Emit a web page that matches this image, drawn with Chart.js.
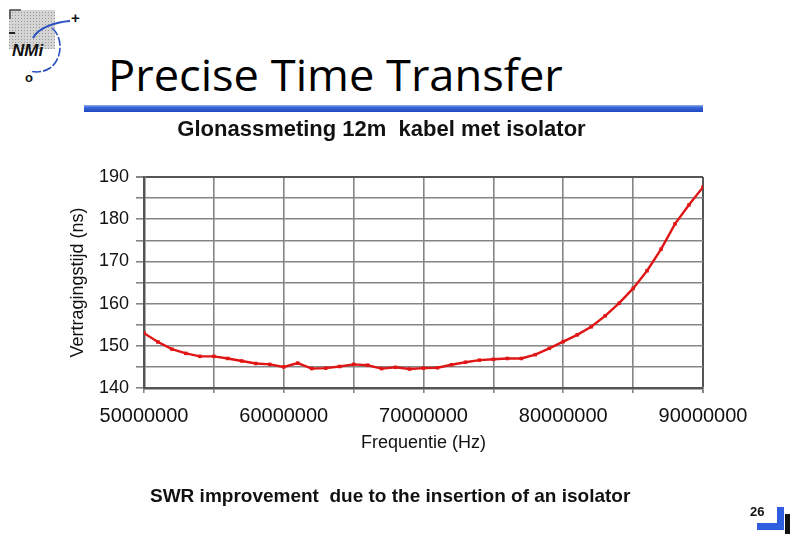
<!DOCTYPE html>
<html>
<head>
<meta charset="utf-8">
<script src="https://cdn.jsdelivr.net/npm/chart.js@4"></script>
<style>
  html, body { margin: 0; padding: 0; background: #fff; }
  .slide { position: relative; width: 790px; height: 534px; overflow: hidden; font-family: "Liberation Sans", Arial, sans-serif; }
  .slide canvas { position: absolute; left: 0; top: 0; }
  .logo { position: absolute; left: 0; top: 0; }
  .big-title {
    position: absolute; left: 108px; top: 44px; margin: 0;
    font-family: "Open Sans", "Noto Sans", sans-serif; font-weight: 400; font-size: 44px;
    color: #000; white-space: nowrap; transform-origin: left top;
  }
  .title-bar {
    position: absolute; left: 84px; top: 105px; width: 619px; height: 7px;
    background: linear-gradient(#8fb0f0 0%, #3a66d8 35%, #1f47c0 100%);
  }
  .footer {
    position: absolute; left: 150px; top: 485px; margin: 0; white-space: pre;
    font-weight: 700; font-size: 19px; color: #111;
  }
  .page-no { position: absolute; left: 750px; top: 504px; font-weight: 700; font-size: 13px; color: #111; }
  .corner-shadow { position: absolute; left: 785px; top: 514px; width: 5px; height: 20px; background: #111; }
  .corner-v { position: absolute; left: 777px; top: 507px; width: 7px; height: 23px; background: #2f5fe0; }
  .corner-h { position: absolute; left: 757px; top: 523px; width: 27px; height: 7px; background: #2f5fe0; }
</style>
</head>
<body>
<div class="slide">
  <svg class="logo" width="90" height="90" viewBox="0 0 90 90">
    <defs>
      <pattern id="dots" width="3" height="3" patternUnits="userSpaceOnUse">
        <rect width="3" height="3" fill="#d4d4d4"/>
        <rect width="1" height="1" fill="#9a9a9a"/>
      </pattern>
    </defs>
    <rect x="9" y="10" width="46" height="39" fill="url(#dots)"/>
    <path d="M10 19 V10 H21" stroke="#444" stroke-width="1.5" fill="none"/>
    <line x1="9" y1="33" x2="15" y2="33" stroke="#222" stroke-width="2"/>
    <path d="M70 21 C55 22 38 28 33 38" stroke="#2a4fc0" stroke-width="2" fill="none"/>
    <path d="M52 28 C64 38 62 60 50 68 C44 72 36 73 30 71" stroke="#2a4fc0" stroke-width="1.6" fill="none" stroke-dasharray="9 2"/>
    <text x="12" y="56" font-family="Liberation Sans, Arial" font-weight="700" font-style="italic" font-size="17" fill="#111">NMi</text>
    <text x="71" y="23" font-family="Liberation Sans, Arial" font-weight="700" font-size="15" fill="#111">+</text>
    <text x="25" y="82" font-family="Liberation Sans, Arial" font-weight="700" font-size="13" fill="#111">o</text>
  </svg>
  <h1 class="big-title" id="bigTitle">Precise Time Transfer</h1>
  <div class="title-bar"></div>
  <canvas id="chart" width="790" height="534"></canvas>
  <p class="footer">SWR improvement  due to the insertion of an isolator</p>
  <div class="page-no">26</div>
  <div class="corner-shadow"></div>
  <div class="corner-v"></div>
  <div class="corner-h"></div>
</div>
<script>
// measured points, 1 MHz apart
const freqMHz = [50, 51, 52, 53, 54, 55, 56, 57, 58, 59,
                 60, 61, 62, 63, 64, 65, 66, 67, 68, 69,
                 70, 71, 72, 73, 74, 75, 76, 77, 78, 79,
                 80, 81, 82, 83, 84, 85, 86, 87, 88, 89, 90];
const delayNs = [153.0, 150.9, 149.2, 148.2, 147.5, 147.5, 147.0, 146.4, 145.8, 145.6,
                 145.0, 145.9, 144.6, 144.7, 145.1, 145.6, 145.4, 144.6, 144.9, 144.5,
                 144.7, 144.8, 145.5, 146.1, 146.6, 146.8, 147.0, 147.0, 147.9, 149.4,
                 151.0, 152.6, 154.5, 157.1, 160.1, 163.6, 167.8, 172.9, 178.9, 183.4, 187.6];
const xTickLabels = ['50000000', '60000000', '70000000', '80000000', '90000000'];
const yTickLabels = ['140', '150', '160', '170', '180', '190'];

const chartTitle = 'Glonassmeting 12m  kabel met isolator';
const xTitle = 'Frequentie (Hz)';
const yTitle = 'Vertragingstijd (ns)';

// squeeze the big heading to the width it has on the slide
const bt = document.getElementById('bigTitle');
bt.style.transform = 'scale(' + (455 / bt.offsetWidth) + ', 1)';

const points = freqMHz.map((f, i) => ({ x: f * 1000000, y: delayNs[i] }));
const edgeColor = '#555';
const gridColor = '#858585';

Chart.defaults.font.family = '"Liberation Sans", Arial, sans-serif';
Chart.defaults.color = '#111';

new Chart(document.getElementById('chart'), {
    type: 'line',
    data: {
        datasets: [{
            data: points,
            borderColor: '#e01515',
            backgroundColor: '#e01515',
            borderWidth: 2.4,
            pointStyle: 'rect',
            pointRadius: 2.5,
            pointBorderWidth: 0,
            tension: 0
        }]
    },
    options: {
        responsive: false,
        animation: false,
        layout: { padding: { left: 60, right: 87, top: 112, bottom: 80 } },
        plugins: {
            legend: { display: false },
            tooltip: { enabled: false },
            title: {
                display: true, text: chartTitle, color: '#111',
                font: { size: 22, weight: 'bold' },
                padding: { top: 4.8, bottom: 33.8 }
            }
        },
        scales: {
            x: {
                type: 'linear', min: 50000000, max: 90000000,
                afterFit: s => { s.height = 66; },
                ticks: {
                    stepSize: 5000000, autoSkip: false, maxRotation: 0, padding: 11,
                    font: { size: 20 }, color: '#111',
                    callback: v => xTickLabels.includes(String(v)) ? String(v) : ''
                },
                grid: {
                    color: c => (c.tick && c.tick.value === 90000000) ? edgeColor : gridColor,
                    lineWidth: c => (c.tick && c.tick.value === 90000000) ? 2 : 1.6,
                    tickLength: 5, tickColor: gridColor
                },
                border: { color: edgeColor, width: 2.5 },
                title: { display: true, text: xTitle, font: { size: 18 }, color: '#111', padding: 0 }
            },
            y: {
                min: 140, max: 190,
                afterFit: s => { s.width = 84; },
                ticks: {
                    stepSize: 5, autoSkip: false, padding: 7,
                    font: { size: 18 }, color: '#111',
                    callback: v => yTickLabels.includes(String(v)) ? String(v) : ''
                },
                grid: {
                    color: c => (c.tick && c.tick.value === 190) ? edgeColor : gridColor,
                    lineWidth: c => (c.tick && c.tick.value === 190) ? 2 : 1.6,
                    tickLength: 8, tickColor: gridColor
                },
                border: { color: edgeColor, width: 2.5 },
                title: { display: true, text: yTitle, font: { size: 18 }, color: '#111', padding: { top: 7, bottom: 0 } }
            }
        }
    }
});
</script>
</body>
</html>
